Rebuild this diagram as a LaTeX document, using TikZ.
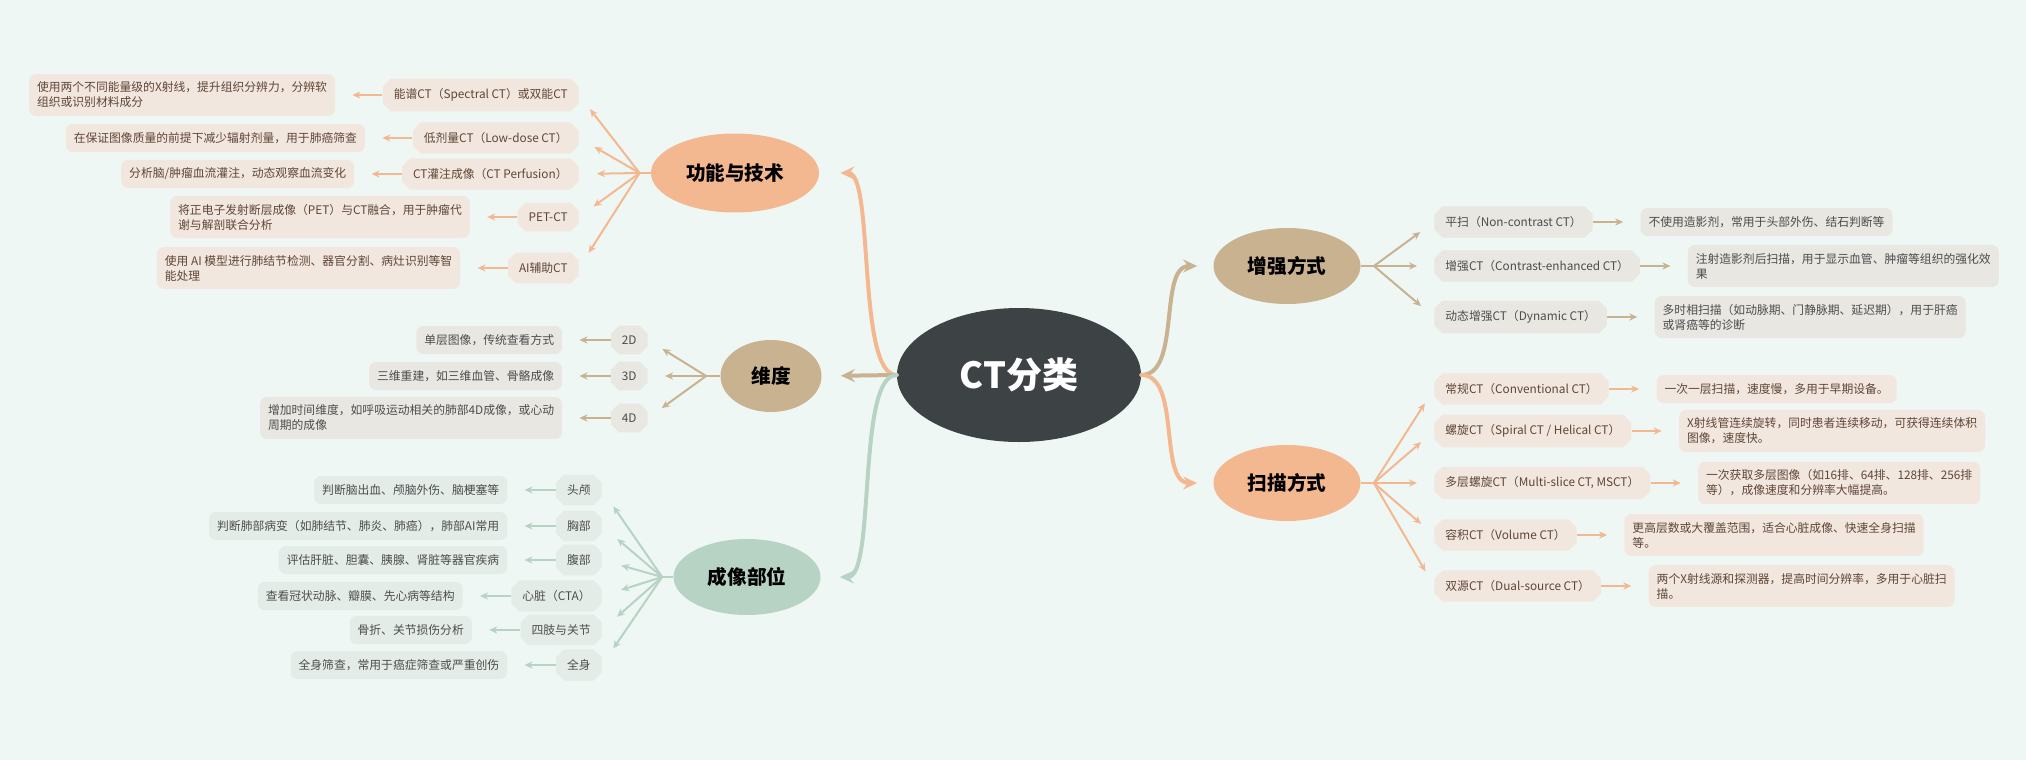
\documentclass[tikz,border=0pt]{standalone}
\usepackage{fontspec}
\setmainfont{Noto Sans CJK SC}
\usetikzlibrary{positioning,arrows.meta,shapes.geometric,shapes.misc}
\definecolor{bgcol}{HTML}{EFF7F5}
\definecolor{rootcol}{HTML}{3D4245}
\definecolor{pchcol}{HTML}{F4B891}
\definecolor{tancol}{HTML}{C8B290}
\definecolor{sagecol}{HTML}{B6D3C4}
\definecolor{pchbox}{HTML}{F2E7DF}
\definecolor{tanbox}{HTML}{E8E7E2}
\definecolor{sagebox}{HTML}{E4ECE8}
\definecolor{pchtxt}{HTML}{5E4636}
\definecolor{graytxt}{HTML}{4C4C4C}

\begin{document}
\begin{tikzpicture}[x=0.5pt,y=-0.5pt,
root/.style={ellipse, fill=rootcol, text=white, inner sep=0pt,
  minimum width=122pt, minimum height=67pt, font=\fontsize{18}{20}\selectfont\bfseries},
topic/.style={ellipse, fill=#1, text=black, inner sep=0pt,
  minimum height=38pt, font=\fontsize{9.8}{11}\selectfont\bfseries},
item/.style={chamfered rectangle, chamfered rectangle xsep=2pt, chamfered rectangle ysep=2pt,
  minimum height=14pt, inner xsep=3.5pt, inner ysep=3pt, font=\fontsize{5.9}{7.5}\selectfont},
note/.style={rectangle, rounded corners=3.5pt, align=left, minimum height=14pt,
  inner xsep=4pt, inner ysep=4pt, font=\fontsize{5.9}{7.5}\selectfont},
pch/.style={fill=pchbox, text=pchtxt},
tan/.style={fill=tanbox, text=graytxt},
sage/.style={fill=sagebox, text=graytxt},
branch/.style={line width=2pt, line cap=round, draw=#1,
  -{Stealth[length=7pt,width=6.5pt,inset=2.5pt]}},
stub/.style={line width=1.2pt, draw=#1},
link/.style={line width=1pt, draw=#1, -{Stealth[length=4pt,width=3.6pt]}}]

    \fill[bgcol] (0,0) rectangle (2026,760);

    % centre and main topics
    \node [root] (ct) at (1019,375) {CT分类};
    \node [topic=pchcol, minimum width=84pt, minimum height=39.5pt] (fn) at (735,173) {功能与技术};
    \node [topic=tancol, minimum width=50.5pt, minimum height=36pt] (dim) at (771,376) {维度};
    \node [topic=sagecol, minimum width=73.5pt] (img) at (747,577) {成像部位};
    \node [topic=tancol, minimum width=73.5pt] (enh) at (1287,266) {增强方式};
    \node [topic=pchcol, minimum width=73.5pt] (scan) at (1287,483) {扫描方式};

    \draw [branch=pchcol, shorten >=10.5pt] (ct.west) .. controls +(-40,0) and +(55,0) .. (fn.east);
    \draw [branch=tancol, shorten >=9.5pt] (ct.west) -- (dim.east);
    \draw [branch=sagecol, shorten >=9.5pt] (ct.west) .. controls +(-40,0) and +(55,0) .. (img.east);
    \draw [branch=tancol, shorten >=8pt] (ct.east) .. controls +(40,0) and +(-55,0) .. (enh.west);
    \draw [branch=pchcol, shorten >=8pt] (ct.east) .. controls +(40,0) and +(-55,0) .. (scan.west);

    % 功能与技术
    \coordinate (jf) at ([xshift=-5.5pt]fn.west);
    \node [item, pch, anchor=east] (f1) at (579,95) {能谱CT（Spectral CT）或双能CT};
    \node [item, pch, anchor=east] (f2) at (579,138) {低剂量CT（Low-dose CT）};
    \node [item, pch, anchor=east] (f3) at (579,174) {CT灌注成像（CT Perfusion）};
    \node [item, pch, anchor=east] (f4) at (579,217) {PET-CT};
    \node [item, pch, anchor=east] (f5) at (579,268) {AI辅助CT};
    \node [note, pch, left=23.5pt of f1] (fd1) {使用两个不同能量级的X射线，提升组织分辨力，分辨软\\组织或识别材料成分};
    \node [note, pch, left=23.5pt of f2] (fd2) {在保证图像质量的前提下减少辐射剂量，用于肺癌筛查};
    \node [note, pch, left=23.5pt of f3] (fd3) {分析脑/肿瘤血流灌注，动态观察血流变化};
    \node [note, pch, left=23.5pt of f4] (fd4) {将正电子发射断层成像（PET）与CT融合，用于肿瘤代\\谢与解剖联合分析};
    \node [note, pch, left=23.5pt of f5] (fd5) {使用 AI 模型进行肺结节检测、器官分割、病灶识别等智\\能处理};
    \draw [stub=pchcol] (fn.west) -- (jf);
    \draw [link=pchcol, shorten >=9pt] (jf) -- (f1.east);
    \draw [link=pchcol, shorten >=9pt] (jf) -- (f2.east);
    \draw [link=pchcol, shorten >=9pt] (jf) -- (f3.east);
    \draw [link=pchcol, shorten >=9pt] (jf) -- (f4.east);
    \draw [link=pchcol, shorten >=9pt] (jf) -- (f5.east);
    \draw [link=pchcol, shorten >=8.5pt] (f1.west) -- (f1.west -| fd1.east);
    \draw [link=pchcol, shorten >=8.5pt] (f2.west) -- (f2.west -| fd2.east);
    \draw [link=pchcol, shorten >=8.5pt] (f3.west) -- (f3.west -| fd3.east);
    \draw [link=pchcol, shorten >=8.5pt] (f4.west) -- (f4.west -| fd4.east);
    \draw [link=pchcol, shorten >=8.5pt] (f5.west) -- (f5.west -| fd5.east);

    % 维度
    \coordinate (jd) at ([xshift=-7pt]dim.west);
    \node [item, tan, anchor=east] (d2) at (648,340) {2D};
    \node [item, tan, anchor=east] (d3) at (648,376) {3D};
    \node [item, tan, anchor=east] (d4) at (648,418) {4D};
    \node [note, tan, left=24pt of d2] (dd2) {单层图像，传统查看方式};
    \node [note, tan, left=24pt of d3] (dd3) {三维重建，如三维血管、骨骼成像};
    \node [note, tan, left=24pt of d4] (dd4) {增加时间维度，如呼吸运动相关的肺部4D成像，或心动\\周期的成像};
    \draw [stub=tancol] (dim.west) -- (jd);
    \draw [link=tancol, shorten >=8.5pt] (jd) -- (d2.east);
    \draw [link=tancol, shorten >=8.5pt] (jd) -- (d3.east);
    \draw [link=tancol, shorten >=8.5pt] (jd) -- (d4.east);
    \draw [link=tancol, shorten >=8.5pt] (d2.west) -- (d2.west -| dd2.east);
    \draw [link=tancol, shorten >=8.5pt] (d3.west) -- (d3.west -| dd3.east);
    \draw [link=tancol, shorten >=8.5pt] (d4.west) -- (d4.west -| dd4.east);

    % 成像部位
    \coordinate (ji) at ([xshift=-5.5pt]img.west);
    \node [item, sage, anchor=east] (i1) at (602,490) {头颅};
    \node [item, sage, anchor=east] (i2) at (602,526) {胸部};
    \node [item, sage, anchor=east] (i3) at (602,560) {腹部};
    \node [item, sage, anchor=east] (i4) at (602,596) {心脏（CTA）};
    \node [item, sage, anchor=east] (i5) at (602,630) {四肢与关节};
    \node [item, sage, anchor=east] (i6) at (602,665) {全身};
    \node [note, sage, left=24pt of i1] (id1) {判断脑出血、颅脑外伤、脑梗塞等};
    \node [note, sage, left=24pt of i2] (id2) {判断肺部病变（如肺结节、肺炎、肺癌），肺部AI常用};
    \node [note, sage, left=24pt of i3] (id3) {评估肝脏、胆囊、胰腺、肾脏等器官疾病};
    \node [note, sage, left=24pt of i4] (id4) {查看冠状动脉、瓣膜、先心病等结构};
    \node [note, sage, left=24pt of i5] (id5) {骨折、关节损伤分析};
    \node [note, sage, left=24pt of i6] (id6) {全身筛查，常用于癌症筛查或严重创伤};
    \draw [stub=sagecol] (img.west) -- (ji);
    \draw [link=sagecol, shorten >=10pt] (ji) -- (i1.east);
    \draw [link=sagecol, shorten >=10pt] (ji) -- (i2.east);
    \draw [link=sagecol, shorten >=10pt] (ji) -- (i3.east);
    \draw [link=sagecol, shorten >=10pt] (ji) -- (i4.east);
    \draw [link=sagecol, shorten >=10pt] (ji) -- (i5.east);
    \draw [link=sagecol, shorten >=10pt] (ji) -- (i6.east);
    \draw [link=sagecol, shorten >=8.5pt] (i1.west) -- (i1.west -| id1.east);
    \draw [link=sagecol, shorten >=8.5pt] (i2.west) -- (i2.west -| id2.east);
    \draw [link=sagecol, shorten >=8.5pt] (i3.west) -- (i3.west -| id3.east);
    \draw [link=sagecol, shorten >=8.5pt] (i4.west) -- (i4.west -| id4.east);
    \draw [link=sagecol, shorten >=8.5pt] (i5.west) -- (i5.west -| id5.east);
    \draw [link=sagecol, shorten >=8.5pt] (i6.west) -- (i6.west -| id6.east);

    % 增强方式
    \coordinate (je) at ([xshift=6.5pt]enh.east);
    \node [item, tan, anchor=west] (e1) at (1434,222) {平扫（Non-contrast CT）};
    \node [item, tan, anchor=west] (e2) at (1434,266) {增强CT（Contrast-enhanced CT）};
    \node [item, tan, anchor=west] (e3) at (1434,317) {动态增强CT（Dynamic CT）};
    \node [note, tan, right=23.5pt of e1] (ed1) {不使用造影剂，常用于头部外伤、结石判断等};
    \node [note, tan, right=23.5pt of e2] (ed2) {注射造影剂后扫描，用于显示血管、肿瘤等组织的强化效\\果};
    \node [note, tan, right=23.5pt of e3] (ed3) {多时相扫描（如动脉期、门静脉期、延迟期），用于肝癌\\或肾癌等的诊断};
    \draw [stub=tancol] (enh.east) -- (je);
    \draw [link=tancol, shorten >=8.5pt] (je) -- (e1.west);
    \draw [link=tancol, shorten >=8.5pt] (je) -- (e2.west);
    \draw [link=tancol, shorten >=8.5pt] (je) -- (e3.west);
    \draw [link=tancol, shorten >=8.5pt] (e1.east) -- (e1.east -| ed1.west);
    \draw [link=tancol, shorten >=8.5pt] (e2.east) -- (e2.east -| ed2.west);
    \draw [link=tancol, shorten >=8.5pt] (e3.east) -- (e3.east -| ed3.west);

    % 扫描方式
    \coordinate (js) at ([xshift=6.5pt]scan.east);
    \node [item, pch, anchor=west] (s1) at (1434,389) {常规CT（Conventional CT）};
    \node [item, pch, anchor=west] (s2) at (1434,431) {螺旋CT（Spiral CT / Helical CT）};
    \node [item, pch, anchor=west] (s3) at (1434,483) {多层螺旋CT（Multi-slice CT, MSCT）};
    \node [item, pch, anchor=west] (s4) at (1434,535) {容积CT（Volume CT）};
    \node [item, pch, anchor=west] (s5) at (1434,586) {双源CT（Dual-source CT）};
    \node [note, pch, right=23.5pt of s1] (sd1) {一次一层扫描，速度慢，多用于早期设备。};
    \node [note, pch, right=23.5pt of s2] (sd2) {X射线管连续旋转，同时患者连续移动，可获得连续体积\\图像，速度快。};
    \node [note, pch, right=23.5pt of s3] (sd3) {一次获取多层图像（如16排、64排、128排、256排\\等），成像速度和分辨率大幅提高。};
    \node [note, pch, right=23.5pt of s4] (sd4) {更高层数或大覆盖范围，适合心脏成像、快速全身扫描\\等。};
    \node [note, pch, right=23.5pt of s5] (sd5) {两个X射线源和探测器，提高时间分辨率，多用于心脏扫\\描。};
    \draw [stub=pchcol] (scan.east) -- (js);
    \draw [link=pchcol, shorten >=8.5pt] (js) -- (s1.west);
    \draw [link=pchcol, shorten >=8.5pt] (js) -- (s2.west);
    \draw [link=pchcol, shorten >=8.5pt] (js) -- (s3.west);
    \draw [link=pchcol, shorten >=8.5pt] (js) -- (s4.west);
    \draw [link=pchcol, shorten >=8.5pt] (js) -- (s5.west);
    \draw [link=pchcol, shorten >=8.5pt] (s1.east) -- (s1.east -| sd1.west);
    \draw [link=pchcol, shorten >=8.5pt] (s2.east) -- (s2.east -| sd2.west);
    \draw [link=pchcol, shorten >=8.5pt] (s3.east) -- (s3.east -| sd3.west);
    \draw [link=pchcol, shorten >=8.5pt] (s4.east) -- (s4.east -| sd4.west);
    \draw [link=pchcol, shorten >=8.5pt] (s5.east) -- (s5.east -| sd5.west);
\end{tikzpicture}
\end{document}
